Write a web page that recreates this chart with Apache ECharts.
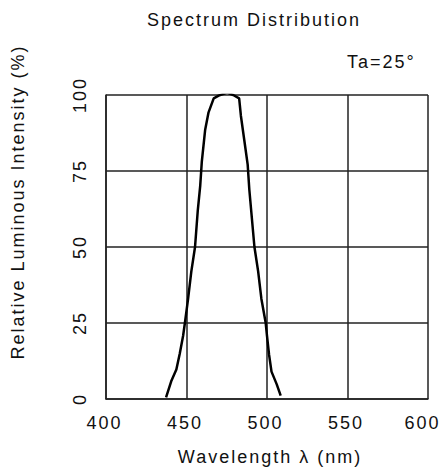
<!DOCTYPE html>
<html>
<head>
<meta charset="utf-8">
<script src="https://cdn.jsdelivr.net/npm/echarts@6/dist/echarts.min.js"></script>
<style>
  html, body { margin: 0; padding: 0; background: #fff; }
  #chart { width: 443px; height: 474px; }
  #chart text { letter-spacing: 2px; }
</style>
</head>
<body>
<div id="chart"></div>
<script>
// Wavelength (nm)
const wavelengths = [437.3, 440.5, 443.7, 445.8, 447.9, 449.0, 451.0, 453.0, 455.3, 457.0, 458.5, 459.5,
  461.6, 463.7, 466.9, 470.0, 475.3, 479.0, 482.7, 483.8, 485.9, 488.0, 489.0, 492.2, 494.5, 496.5,
  499.2, 500.0, 501.3, 502.8, 506.0, 508.5];
// Relative luminous intensity (%)
const intensity = [0.5, 5.8, 9.7, 14.9, 20.8, 25.0, 33.0, 42.0, 50.0, 62.0, 70.0, 78.0,
  88.6, 94.3, 98.9, 99.8, 100.8, 100.0, 98.9, 93.1, 85.1, 77.1, 69.0, 50.0, 42.0, 33.0,
  25.0, 20.8, 14.5, 9.0, 4.9, 1.1];
const xTicks = [400, 450, 500, 550, 600];
const yTicks = [0, 25, 50, 75, 100];
const titleText = 'Spectrum Distribution';
const noteText = 'Ta=25°';
const xName = 'Wavelength λ (nm)';
const yName = 'Relative Luminous Intensity (%)';

const seriesData = wavelengths.map((w, i) => [w, intensity[i]]);
const FONT = 'Liberation Sans, Arial, sans-serif';
const TXT = '#111';
const GRID = '#222';
const xMax = xTicks[xTicks.length - 1];

const chart = echarts.init(document.getElementById('chart'), null, { renderer: 'svg' });
chart.setOption({
  animation: false,
  backgroundColor: '#fff',
  grid: { left: 106, right: 15, top: 95, bottom: 75, containLabel: false, outerBoundsMode: 'none' },
  xAxis: {
    type: 'value',
    min: xTicks[0], max: xMax, interval: xTicks[1] - xTicks[0],
    name: xName, nameLocation: 'middle', nameGap: 49,
    nameTextStyle: { fontFamily: FONT, fontSize: 18, color: TXT, padding: [0, 0, 0, 6] },
    axisLine: { show: true, lineStyle: { color: GRID, width: 1.5 } },
    axisTick: { show: false },
    axisLabel: {
      margin: 15, fontFamily: FONT, fontSize: 18, color: TXT,
      formatter: v => (v === xMax ? '{last|' + v + '}' : '{n|' + v + '}'),
      rich: {
        n: { fontFamily: FONT, fontSize: 18, color: TXT, padding: [0, 3, 0, 0] },
        last: { fontFamily: FONT, fontSize: 18, color: TXT, padding: [0, 11, 0, 0] }
      }
    },
    splitLine: { show: true, lineStyle: { color: GRID, width: 1.5 } }
  },
  yAxis: {
    type: 'value',
    min: yTicks[0], max: yTicks[yTicks.length - 1], interval: yTicks[1] - yTicks[0],
    axisLine: { show: true, lineStyle: { color: GRID, width: 1.5 } },
    axisTick: { show: false },
    axisLabel: { rotate: 90, margin: 17, fontFamily: FONT, fontSize: 18, color: TXT },
    splitLine: { show: true, lineStyle: { color: GRID, width: 1.5 } }
  },
  graphic: [
    { type: 'text', x: 147, y: 20, style: { text: titleText, font: '18px ' + FONT, fill: TXT, textAlign: 'left', textVerticalAlign: 'middle' } },
    { type: 'text', x: 347, y: 61.5, style: { text: noteText, font: '18px ' + FONT, fill: TXT, textAlign: 'left', textVerticalAlign: 'middle' } },
    { type: 'text', x: 18, y: 202, rotation: Math.PI / 2, style: { text: yName, font: '18px ' + FONT, fill: TXT, textAlign: 'center', textVerticalAlign: 'middle' } }
  ],
  series: [{
    type: 'line',
    data: seriesData,
    showSymbol: false,
    symbol: 'none',
    lineStyle: { color: '#000', width: 2.5 },
    z: 5
  }]
});
</script>
</body>
</html>
